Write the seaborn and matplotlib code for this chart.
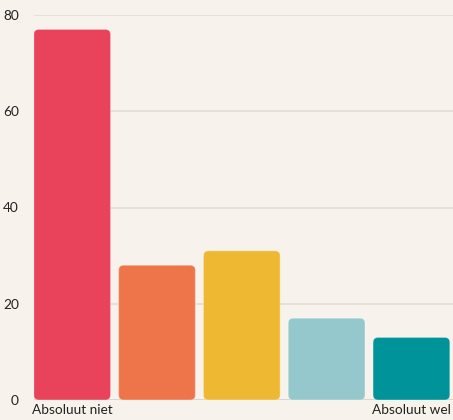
import numpy as np
import pandas as pd
import matplotlib
matplotlib.use("Agg")
import matplotlib.pyplot as plt
import seaborn as sns
from matplotlib.patches import FancyBboxPatch

# data
categories = ["1", "2", "3", "4", "5"]
values = [77, 28, 31, 17, 13]
tick_labels = ["Absoluut niet", "", "", "", "Absoluut wel"]
colors = ["#e8435a", "#ee7549", "#efb832", "#94c8cc", "#009399"]
y_ticks = [0, 20, 40, 60, 80]

bg = "#f7f3ec"
sns.set_theme(style="white")
plt.rcParams["font.family"] = ["Lato", "DejaVu Sans"]

fig = plt.figure(figsize=(4.53, 4.20), dpi=100, facecolor=bg)
ax = fig.add_axes([34 / 453, 20 / 420, 419 / 453, 385 / 420])
ax.set_facecolor(bg)

df = pd.DataFrame({"cat": categories, "val": values})
sns.barplot(data=df, x="cat", y="val", hue="cat", palette=colors,
            saturation=1, legend=False, width=0.905, ax=ax, zorder=3)

# swap plain rectangles for rounded ones
ax.set_xlim(-0.45, 4.49)
ax.set_ylim(0, 80)
px_x = 419 / (4.49 + 0.45)
px_y = 385 / 80
for p in list(ax.patches):
    x, y = p.get_x(), p.get_y()
    w, h = p.get_width(), p.get_height()
    fc = p.get_facecolor()
    p.remove()
    ax.add_patch(FancyBboxPatch((x, y), w, h,
                                boxstyle="round,pad=0,rounding_size=%f" % (5 / px_x),
                                mutation_aspect=px_x / px_y,
                                facecolor=fc, edgecolor=(1, 1, 1, 0.3),
                                linewidth=0.8, zorder=3))

ax.set_yticks(y_ticks)
ax.set_xticks(range(len(categories)))
ax.set_xticklabels(tick_labels)
ax.yaxis.grid(True, color="#e2ded6", linewidth=1.2, zorder=0)
ax.xaxis.grid(False)
for s in ax.spines.values():
    s.set_visible(False)
ax.axhline(0, color="#d8d4cc", linewidth=1.2, zorder=2)
ax.tick_params(axis="both", length=0, labelsize=9.8, colors="#222222")
ax.tick_params(axis="y", pad=11)
ax.tick_params(axis="x", pad=3)
ax.set_xlabel("")
ax.set_ylabel("")

fig.savefig("out.png", dpi=100, facecolor=bg)
